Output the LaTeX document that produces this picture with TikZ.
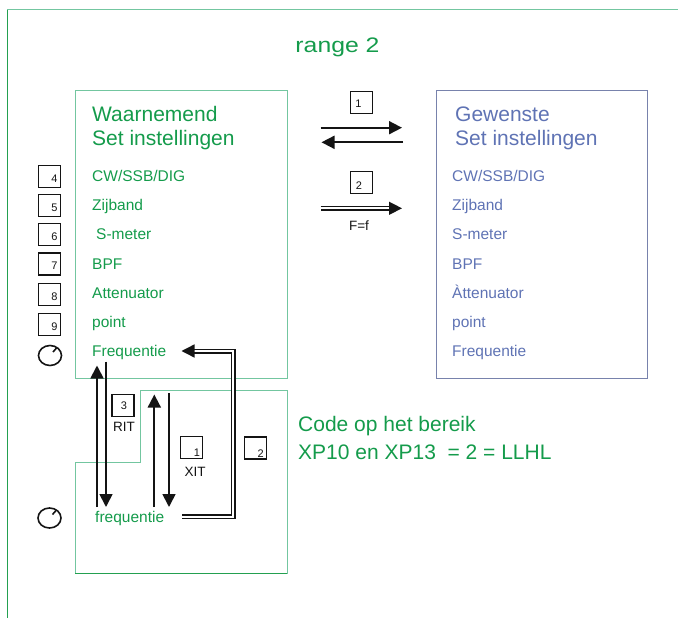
\documentclass[tikz,border=0pt]{standalone}
\usepackage{fontspec}
\setmainfont{Liberation Sans}
\usetikzlibrary{arrows.meta,calc}
\definecolor{gtext}{RGB}{20,155,75}
\definecolor{gbox}{RGB}{115,198,160}
\definecolor{gdark}{RGB}{35,160,80}
\definecolor{btext}{RGB}{95,115,180}
\definecolor{bbox}{RGB}{120,130,172}
\definecolor{ink}{RGB}{20,20,20}
\begin{document}
\begin{tikzpicture}[x=1pt,y=-1pt,
  numbox/.style={draw=ink, line width=1.3pt, minimum size=22pt, inner sep=0pt},
  numlbl/.style={inner sep=0pt, text=ink, font=\fontsize{11}{12}\selectfont},
  smalllbl/.style={inner sep=0pt, text=ink, font=\fontsize{13.5}{15}\selectfont},
  gitem/.style={anchor=base west, inner sep=0pt, text=gtext, font=\fontsize{15.5}{18}\selectfont},
  bitem/.style={anchor=base west, inner sep=0pt, text=btext, font=\fontsize{15.5}{18}\selectfont},
  gtitle/.style={anchor=base west, inner sep=0pt, text=gtext, font=\fontsize{21}{24}\selectfont},
  btitle/.style={anchor=base west, inner sep=0pt, text=btext, font=\fontsize{21}{24}\selectfont},
  arr/.style={draw=ink, line width=1.8pt, -{Triangle[length=13pt,width=13pt]}},
  dbl/.style={draw=ink, double=white, double distance=2.2pt, line width=1.4pt, line join=miter,
     -{Triangle[length=13pt,width=13pt]}},
  knob/.style={draw=ink, line width=1.6pt}
]
\useasboundingbox (0,0) rectangle (678,618);

% outer frame
\draw[gbox, line width=1pt] (7,10) -- (678,10);
\draw[gdark, line width=1pt] (7,618) -- (7,10);

% title
\node[inner sep=0pt, anchor=base, text=gtext, font=\fontsize{21}{24}\selectfont] (title) at (337.5,52.3) {\scalebox{1.18}[1]{range 2}};

% left box
\draw[gbox, line width=1pt] (75,91) rectangle (287,378);
\node[gtitle] (lt1) at (92,121.7) {Waarnemend};
\node[gtitle] (lt2) at (92,145) {Set instellingen};
\node[gitem] (l1) at (92,181.7) {CW/SSB/DIG};
\node[gitem] (l2) at (92,210.8) {Zijband};
\node[gitem] (l3) at (96,239.9) {S-meter};
\node[gitem] (l4) at (92,269) {BPF};
\node[gitem] (l5) at (92,298.1) {Attenuator};
\node[gitem] (l6) at (92,327.2) {point};
\node[gitem] (l7) at (92,356.3) {Frequentie};

% right box
\draw[bbox, line width=1pt] (436,91) rectangle (647,378);
\node[btitle] (rt1) at (455,121.7) {Gewenste};
\node[btitle] (rt2) at (455,145) {Set instellingen};
\node[bitem] (r1) at (452,181.7) {CW/SSB/DIG};
\node[bitem] (r2) at (452,210.8) {Zijband};
\node[bitem] (r3) at (452,239.9) {S-meter};
\node[bitem] (r4) at (452,269) {BPF};
\node[bitem] (r5) at (452,298.1) {Àttenuator};
\node[bitem] (r6) at (452,327.2) {point};
\node[bitem] (r7) at (452,356.3) {Frequentie};

% numbered boxes left
\foreach \n/\yy in {4/176.5,5/205.5,6/234.5,7/264,8/294.5,9/324.5}{
  \node[numbox] (b\n) at (49.5,\yy) {};
  \node[numlbl, anchor=east] (bl\n) at ($(b\n.east)+(-3.5,2)$) {\n};
}
% knobs
\draw[knob] (50,355.5) ellipse [x radius=11.5, y radius=10];
\draw[knob] ($(50,355.5)+(6.5,-7.5)$) -- ($(50,355.5)+(3,-3.5)$);
\draw[knob] (49.5,518) ellipse [x radius=11.5, y radius=10];
\draw[knob] ($(49.5,518)+(6.5,-7.5)$) -- ($(49.5,518)+(3,-3.5)$);

% top-middle arrows
\node[numbox] (m1) at (361.5,102.5) {};
\node[numlbl] (m1l) at (358.5,103.5) {1};
\coordinate (a1s) at (320.7,127.7);
\coordinate (a1e) at (402,127.7);
\coordinate (a2s) at (403,142.3);
\coordinate (a2e) at (321.5,142.3);
\draw[arr] (a1s) -- (a1e);
\draw[arr] (a2s) -- (a2e);

\node[numbox] (m2) at (361.5,182.5) {};
\node[numlbl] (m2l) at (359,186) {2};
\coordinate (d1s) at (320.7,208.3);
\coordinate (d1e) at (402,208.3);
\draw[dbl] (d1s) -- (d1e);
\node[smalllbl] (ff) at (359,225.5) {F=f};

% lower box
\draw[gbox, line width=1pt] (140,390) -- (287,390) -- (287,573) -- (75,573) -- (75,462) -- (140,462) -- cycle;
\draw[gdark, line width=1pt] (75,573) -- (287,573);

\node[inner sep=0pt, anchor=base west, text=gtext, font=\fontsize{15.5}{18}\selectfont] (fb) at (95,522.3) {frequentie};

% RIT / XIT boxes
\node[numbox] (b3) at (123,405.3) {};
\node[numlbl] (b3l) at (124,406) {3};
\node[smalllbl] (rit) at (124,426.5) {RIT};
\node[numbox] (x1) at (191.7,447.2) {};
\node[numlbl] (x1l) at (197,453) {1};
\node[smalllbl] (xit) at (195,472) {XIT};
\node[numbox] (x2) at (255.7,448) {};
\node[numlbl] (x2l) at (260.7,454) {2};

% vertical arrows
\coordinate (u1s) at (97,507);   \coordinate (u1e) at (97,365.5);
\coordinate (v1s) at (106,361.5); \coordinate (v1e) at (106,507);
\coordinate (u2s) at (154.3,507); \coordinate (u2e) at (154.3,394.5);
\coordinate (v2s) at (169,393);  \coordinate (v2e) at (169,507);
\draw[arr] (u1s) -- (u1e);
\draw[arr] (v1s) -- (v1e);
\draw[arr] (u2s) -- (u2e);
\draw[arr] (v2s) -- (v2e);

% double elbow connector
\coordinate (e0) at (182,516.7);
\coordinate (e1) at (233,516.7);
\coordinate (e2) at (233,351);
\coordinate (e3) at (181.5,351);
\draw[dbl] (e0) -- (e1) -- (e2) -- (e3);

% code text
\node[gtitle] (c1) at (298,431) {Code op het bereik};
\node[gtitle] (c2) at (298,459) {XP10 en XP13\ \ = 2 = LLHL};
\end{tikzpicture}
\end{document}
